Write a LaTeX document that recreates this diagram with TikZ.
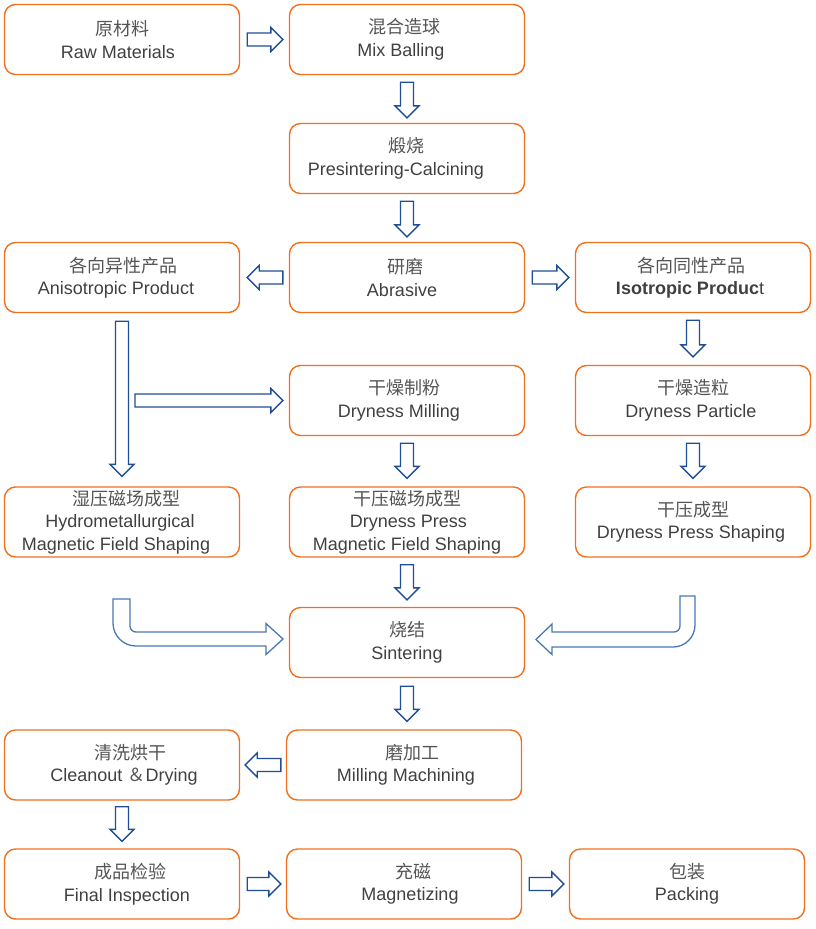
\documentclass[tikz,border=0pt]{standalone}
\usepackage{fontspec}
\setmainfont{Liberation Sans}
\newfontfamily\cjk{Noto Sans CJK SC}
\usetikzlibrary{calc}
\definecolor{bord}{HTML}{F0701E}
\definecolor{txt}{HTML}{404040}
\definecolor{cjkc}{HTML}{555555}
\definecolor{arr}{HTML}{1F4E96}
\definecolor{arrb}{HTML}{4A78B4}
\newcommand\zh[1]{{\cjk\color{cjkc}#1}}
\newcommand\sh[2]{\hspace*{#1pt}#2\hspace*{-#1pt}}
\newcommand\rarr[2]{\draw[blk] let \p1=#1, \p2=#2 in ({\x1},{\y1+6.5pt}) -- ({\x2-12pt},{\y1+6.5pt}) -- ({\x2-12pt},{\y1+12pt}) -- ({\x2},{\y1}) -- ({\x2-12pt},{\y1-12pt}) -- ({\x2-12pt},{\y1-6.5pt}) -- ({\x1},{\y1-6.5pt}) -- cycle;}
\newcommand\larr[2]{\draw[blk] let \p1=#1, \p2=#2 in ({\x1},{\y1+6.5pt}) -- ({\x2+12pt},{\y1+6.5pt}) -- ({\x2+12pt},{\y1+12pt}) -- ({\x2},{\y1}) -- ({\x2+12pt},{\y1-12pt}) -- ({\x2+12pt},{\y1-6.5pt}) -- ({\x1},{\y1-6.5pt}) -- cycle;}
\newcommand\darr[2]{\draw[blk] let \p1=#1, \p2=#2 in ({\x1-6.5pt},{\y1}) -- ({\x1-6.5pt},{\y2+12pt}) -- ({\x1-12pt},{\y2+12pt}) -- ({\x1},{\y2}) -- ({\x1+12pt},{\y2+12pt}) -- ({\x1+6.5pt},{\y2+12pt}) -- ({\x1+6.5pt},{\y1}) -- cycle;}
\begin{document}
\begin{tikzpicture}[x=1pt,y=-1pt,
 box/.style={draw=bord,line width=1.4pt,rounded corners=11pt,minimum width=235pt,minimum height=70pt,align=center,text=txt,font=\fontsize{18}{22.5}\selectfont,inner sep=0pt},
 blk/.style={draw=arr,line width=1.4pt,fill=white,line join=miter},
 bent/.style={draw=arrb,line width=1.3pt,fill=white}]
\useasboundingbox (0,0) rectangle (815,929);
\node[box] (raw) at (122,39.5) {\zh{原材料}\\\sh{-4}{Raw Materials}};
\node[box] (mix) at (407,39.5) {\sh{-3}{\zh{混合造球}}\\\sh{-6}{Mix Balling}};
\node[box] (pre) at (407,158.5) {\sh{-1}{\zh{煅烧}}\\\sh{-11}{Presintering-Calcining}};
\node[box] (aniso) at (122,277.5) {\sh{1}{\zh{各向异性产品}}\\\sh{-6}{Anisotropic Product}};
\node[box] (abr) at (407,277.5) {\sh{-2}{\zh{研磨}}\\\sh{-5}{Abrasive}};
\node[box] (iso) at (693,277.5) {\sh{-2}{\zh{各向同性产品}}\\\sh{-3}{\textbf{Isotropic Produc}t}};
\node[box] (dmill) at (407,400.5) {\sh{-3}{\zh{干燥制粉}}\\\sh{-8}{Dryness Milling}};
\node[box] (dpart) at (693,400.5) {\zh{干燥造粒}\\\sh{-2}{Dryness Particle}};
\node[box] (hydro) at (122,522) {\sh{4}{\zh{湿压磁场成型}}\\\sh{-4}{Hydrometallurgical}\\\sh{-6}{Magnetic Field Shaping}};
\node[box] (dpress) at (407,522) {\zh{干压磁场成型}\\\sh{3}{Dryness Press}\\Magnetic Field Shaping};
\node[box] (dshape) at (693,522) {\zh{干压成型}\\\sh{-2}{Dryness Press Shaping}};
\node[box] (sint) at (407,642.5) {\zh{烧结}\\Sintering};
\node[box] (clean) at (122,765) {\sh{8}{\zh{清洗烘干}}\\\sh{2}{Cleanout \zh{＆}Drying}};
\node[box] (mill) at (404,765) {\sh{8}{\zh{磨加工}}\\\sh{2}{Milling Machining}};
\node[box] (final) at (122,884) {\sh{8}{\zh{成品检验}}\\\sh{5}{Final Inspection}};
\node[box] (mag) at (404,884) {\sh{9}{\zh{充磁}}\\\sh{6}{Magnetizing}};
\node[box] (pack) at (687,884) {\zh{包装}\\Packing};
\rarr{($(raw.east)+(7,0)$)}{($(mix.west)+(-6,0)$)}
\darr{($(mix.south)+(0,7)$)}{($(pre.north)+(0,-5)$)}
\darr{($(pre.south)+(0,7)$)}{($(abr.north)+(0,-5)$)}
\larr{($(abr.west)+(-6,0)$)}{($(aniso.east)+(7,0)$)}
\rarr{($(abr.east)+(7,0)$)}{($(iso.west)+(-6,0)$)}
\darr{($(iso.south)+(0,7)$)}{($(dpart.north)+(0,-8)$)}
\darr{($(aniso.south)+(0,8)$)}{($(hydro.north)+(0,-10)$)}
\rarr{($(aniso.south |- dmill.west)+(13,0)$)}{($(dmill.west)+(-6,0)$)}
\darr{($(dmill.south)+(0,7)$)}{($(dpress.north)+(0,-8)$)}
\darr{($(dpart.south)+(0,7)$)}{($(dshape.north)+(0,-8)$)}
\darr{($(dpress.south)+(0,7)$)}{($(sint.north)+(0,-7)$)}
\darr{($(sint.south)+(0,8)$)}{($(mill.north)+(3,-8)$)}
\larr{($(mill.west)+(-5,0)$)}{($(clean.east)+(5,0)$)}
\darr{($(clean.south)+(0,6)$)}{($(final.north)+(0,-7)$)}
\rarr{($(final.east)+(7,0)$)}{($(mag.west)+(-5,0)$)}
\rarr{($(mag.east)+(7,0)$)}{($(pack.west)+(-5,0)$)}
% bent arrows into Sintering
\draw[bent] (113,599) -- (130,599) -- (130,626) .. controls (130,629.3) and (132.7,632) .. (136,632) -- (266,632) -- (266,623.5) -- (283,639) -- (266,654.5) -- (266,646) -- (136,646) .. controls (123.3,646) and (113,635.7) .. (113,623) -- cycle;
\draw[bent] (680,596) -- (695,596) -- (695,625) .. controls (695,637.2) and (685.2,647) .. (673,647) -- (552,647) -- (552,654.5) -- (536,639.5) -- (552,624) -- (552,632) -- (674,632) .. controls (677.3,632) and (680,629.3) .. (680,626) -- cycle;
\end{tikzpicture}
\end{document}
